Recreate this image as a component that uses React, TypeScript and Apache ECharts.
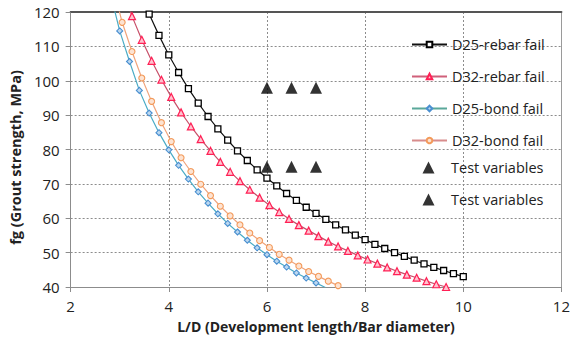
import { useEffect, useRef } from "react";
import * as echarts from "echarts";

// L/D ratios and grout strengths (MPa) for each failure mode
const ldD25Rebar = [3.4, 3.6, 3.8, 4.0, 4.2, 4.4, 4.6, 4.8, 5.0, 5.2, 5.4, 5.6, 5.8, 6.0, 6.2, 6.4, 6.6, 6.8, 7.0, 7.2, 7.4, 7.6, 7.8, 8.0, 8.2, 8.4, 8.6, 8.8, 9.0, 9.2, 9.4, 9.6, 9.8, 10.0];
const fgD25Rebar = [126.5, 119.4, 113.2, 107.5, 102.4, 97.7, 93.5, 89.6, 86.0, 82.7, 79.6, 76.8, 74.1, 71.7, 69.4, 67.2, 65.2, 63.2, 61.4, 59.7, 58.1, 56.6, 55.1, 53.8, 52.4, 51.2, 50.0, 48.9, 47.8, 46.7, 45.7, 44.8, 43.9, 43.0];

const ldD32Rebar = [3.05, 3.25, 3.45, 3.65, 3.85, 4.05, 4.25, 4.45, 4.65, 4.85, 5.05, 5.25, 5.45, 5.65, 5.85, 6.05, 6.25, 6.45, 6.65, 6.85, 7.05, 7.25, 7.45, 7.65, 7.85, 8.05, 8.25, 8.45, 8.65, 8.85, 9.05, 9.25, 9.45, 9.65];
const fgD32Rebar = [126.6, 118.8, 111.9, 105.8, 100.3, 95.3, 90.8, 86.7, 83.0, 79.6, 76.4, 73.5, 70.8, 68.3, 66.0, 63.8, 61.8, 59.8, 58.0, 56.4, 54.8, 53.2, 51.8, 50.5, 49.2, 48.0, 46.8, 45.7, 44.6, 43.6, 42.7, 41.7, 40.8, 40.0];

const ldD25Bond = [2.8, 3.0, 3.2, 3.4, 3.6, 3.8, 4.0, 4.2, 4.4, 4.6, 4.8, 5.0, 5.2, 5.4, 5.6, 5.8, 6.0, 6.2, 6.4, 6.6, 6.8, 7.0, 7.2];
const fgD25Bond = [126.0, 114.5, 105.6, 97.2, 90.6, 84.9, 79.9, 75.4, 71.4, 67.7, 64.4, 61.3, 58.5, 56.0, 53.6, 51.4, 49.4, 47.5, 45.8, 44.1, 42.6, 41.2, 39.8];

const ldD32Bond = [2.85, 3.05, 3.25, 3.45, 3.65, 3.85, 4.05, 4.25, 4.45, 4.65, 4.85, 5.05, 5.25, 5.45, 5.65, 5.85, 6.05, 6.25, 6.45, 6.65, 6.85, 7.05, 7.25, 7.45];
const fgD32Bond = [128.0, 117.0, 108.5, 100.8, 94.0, 87.8, 82.3, 77.6, 73.6, 69.9, 66.6, 63.5, 60.7, 58.1, 55.7, 53.5, 51.5, 49.5, 47.8, 46.1, 44.5, 43.1, 41.7, 40.4];

// Test specimens
const ldTestHigh = [6, 6.5, 7];
const fgTestHigh = [98, 98, 98];
const ldTestLow = [6, 6.5, 7];
const fgTestLow = [75, 75, 75];

const seriesNames = [
  "D25-rebar fail",
  "D32-rebar fail",
  "D25-bond fail",
  "D32-bond fail",
  "Test variables",
  "Test variables ",
];

const FONT = "'Open Sans', 'Noto Sans', sans-serif";
const TRIANGLE_ICON = "path://M5,0 L10,10 L0,10 Z";

const pairs = (xs: number[], ys: number[]) => xs.map((x, i) => [x, ys[i]]);

export default function App() {
  const ref = useRef<HTMLDivElement>(null);

  useEffect(() => {
    const chart = echarts.init(ref.current!, null, { renderer: "svg" });
    const grid = "#8c8c8c";
    const legendText = { fontSize: 14.5, color: "#222", fontFamily: FONT, lineHeight: 14 };
    chart.setOption({
      animation: false,
      backgroundColor: "#ffffff",
      textStyle: { fontFamily: FONT },
      grid: { left: 70, right: 10, top: 12, bottom: 62 },
      legend: [
        {
          orient: "vertical",
          left: 411,
          top: 37,
          padding: 0,
          itemWidth: 35,
          itemHeight: 7,
          itemGap: 17,
          textStyle: legendText,
          data: [
            { name: seriesNames[0] },
            { name: seriesNames[1], lineStyle: { color: "#d0607a" } },
            { name: seriesNames[2], lineStyle: { color: "#5aa89a" } },
            { name: seriesNames[3], lineStyle: { color: "#d88c8c" } },
          ],
        },
        {
          // the triangle icon is narrower than its 35px slot, so the box is offset to line up
          orient: "vertical",
          left: 422.5,
          top: 160,
          padding: 0,
          itemWidth: 35,
          itemHeight: 12,
          itemGap: 17,
          textStyle: legendText,
          data: [
            { name: seriesNames[4], icon: TRIANGLE_ICON },
            { name: seriesNames[5], icon: TRIANGLE_ICON },
          ],
        },
      ],
      xAxis: [
        {
          type: "value",
          min: 2,
          max: 12,
          interval: 2,
          position: "bottom",
          axisLine: { show: true, lineStyle: { color: grid } },
          axisTick: { show: true, length: 5, lineStyle: { color: grid } },
          axisLabel: { color: "#222", fontSize: 15, margin: 11, fontFamily: FONT },
          splitLine: { show: true, lineStyle: { color: grid, type: [2, 2] } },
          name: "L/D (Development length/Bar diameter)",
          nameLocation: "middle",
          nameGap: 32,
          nameTextStyle: { fontWeight: "bold", fontSize: 14, color: "#222", fontFamily: FONT },
        },
        {
          type: "value",
          min: 2,
          max: 12,
          position: "top",
          axisLine: { show: true, lineStyle: { color: "#555", width: 2 } },
          axisTick: { show: false },
          axisLabel: { show: false },
          splitLine: { show: false },
        },
      ],
      yAxis: [
        {
          type: "value",
          min: 40,
          max: 120,
          interval: 10,
          axisLine: { show: true, lineStyle: { color: grid } },
          axisTick: { show: true, length: 5, lineStyle: { color: grid } },
          axisLabel: { color: "#222", fontSize: 15, margin: 11, fontFamily: FONT },
          splitLine: { show: true, lineStyle: { color: grid, type: [2, 2] } },
          name: "fg (Grout strength, MPa)",
          nameLocation: "middle",
          nameGap: 47,
          nameTextStyle: {
            fontWeight: "bold",
            fontSize: 14.5,
            color: "#222",
            fontFamily: FONT,
            padding: [0, 16, 0, 0],
          },
        },
        {
          type: "value",
          min: 40,
          max: 120,
          position: "right",
          axisLine: { show: true, lineStyle: { color: "#9a9a9a" } },
          axisTick: { show: false },
          axisLabel: { show: false },
          splitLine: { show: false },
        },
      ],
      series: [
        {
          type: "line",
          name: seriesNames[0],
          data: pairs(ldD25Rebar, fgD25Rebar),
          symbol: "rect",
          symbolSize: 6,
          showAllSymbol: true,
          lineStyle: { color: "#111", width: 1.2 },
          itemStyle: { color: "#ffffff", borderColor: "#000", borderWidth: 1.3 },
          z: 5,
        },
        {
          type: "line",
          name: seriesNames[1],
          data: pairs(ldD32Rebar, fgD32Rebar),
          symbol: "triangle",
          symbolSize: 7,
          showAllSymbol: true,
          lineStyle: { color: "#c8506a", width: 1.2 },
          itemStyle: { color: "#ffc2cf", borderColor: "#ff2055", borderWidth: 1.2 },
          z: 4,
        },
        {
          type: "line",
          name: seriesNames[2],
          data: pairs(ldD25Bond, fgD25Bond),
          symbol: "diamond",
          symbolSize: 6,
          showAllSymbol: true,
          lineStyle: { color: "#4bacc6", width: 1.2 },
          itemStyle: { color: "#bcd8f0", borderColor: "#4a8fd0", borderWidth: 1.1 },
          z: 3,
        },
        {
          type: "line",
          name: seriesNames[3],
          data: pairs(ldD32Bond, fgD32Bond),
          symbol: "circle",
          symbolSize: 6,
          showAllSymbol: true,
          lineStyle: { color: "#f0a47c", width: 1.2 },
          itemStyle: { color: "#fde3d2", borderColor: "#f39a5a", borderWidth: 1.1 },
          z: 3,
        },
        {
          type: "scatter",
          name: seriesNames[4],
          data: pairs(ldTestHigh, fgTestHigh),
          symbol: "triangle",
          symbolSize: 12,
          itemStyle: { color: "#000" },
          z: 6,
        },
        {
          type: "scatter",
          name: seriesNames[5],
          data: pairs(ldTestLow, fgTestLow),
          symbol: "triangle",
          symbolSize: 12,
          itemStyle: { color: "#000" },
          z: 6,
        },
      ],
    });
    return () => chart.dispose();
  }, []);

  return (
    <div
      ref={ref}
      style={{ position: "fixed", left: 0, top: 0, width: 573, height: 349 }}
    />
  );
}
